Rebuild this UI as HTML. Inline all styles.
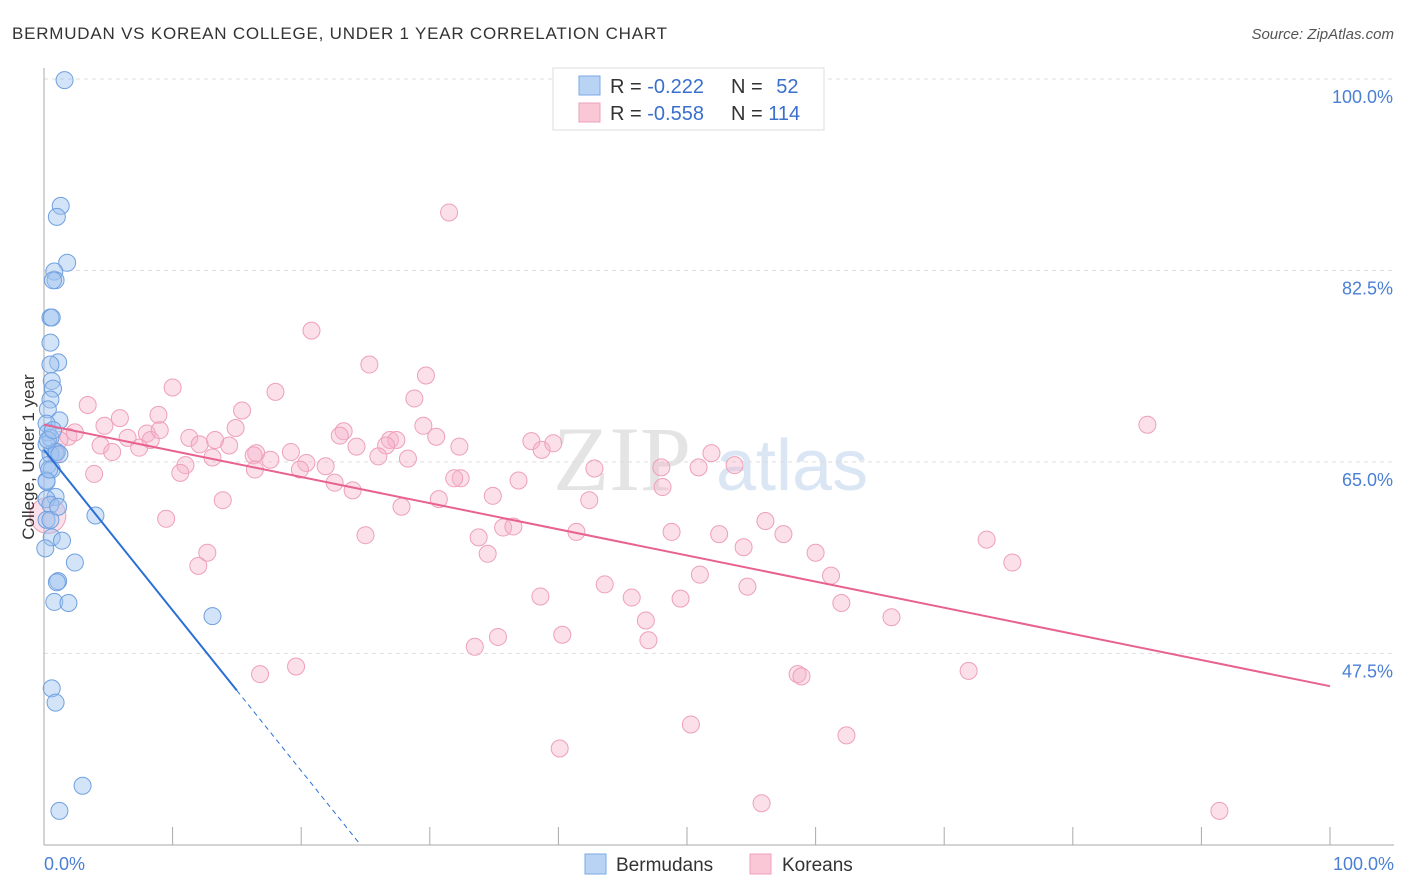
<!DOCTYPE html>
<html><head><meta charset="utf-8">
<style>
body{margin:0;background:#fff;font-family:"Liberation Sans",sans-serif;}
svg{display:block}
</style></head>
<body>
<svg id="chart" width="1406" height="892">
<text x="12" y="39" font-size="17" fill="#333" textLength="655">BERMUDAN VS KOREAN COLLEGE, UNDER 1 YEAR CORRELATION CHART</text>
<text x="1394" y="39" font-size="15" fill="#555" text-anchor="end" font-style="italic">Source: ZipAtlas.com</text>
<text x="553" y="490" font-size="92" fill="#e4e4e4" font-family="Liberation Serif,serif">ZIP</text>
<text x="716" y="490" font-size="72" fill="#dbe6f5">atlas</text>
<g id="grid"></g>
<g id="axes"></g>
<g id="pts"></g>
<g id="lines"></g>
<text transform="translate(34,457) rotate(-90)" font-size="17" fill="#333" text-anchor="middle">College, Under 1 year</text>
<text x="44" y="870" font-size="18" fill="#4a7fd4">0.0%</text>
<text x="1394" y="870" font-size="18" fill="#4a7fd4" text-anchor="end">100.0%</text>
<g>
<rect x="553" y="68" width="271" height="62" fill="#fff" stroke="#ddd"/>
<rect x="579" y="76" width="21" height="19" fill="#b9d3f5" stroke="#7aa8e8"/>
<rect x="579" y="103" width="21" height="19" fill="#f9c7d6" stroke="#eea0b8"/>
<text x="610" y="93" font-size="20" fill="#333">R = <tspan fill="#3a70cc">-0.222</tspan></text>
<text x="731" y="93" font-size="20" fill="#333">N = <tspan fill="#3a70cc" dx="8">52</tspan></text>
<text x="610" y="120" font-size="20" fill="#333">R = <tspan fill="#3a70cc">-0.558</tspan></text>
<text x="731" y="120" font-size="20" fill="#333">N = <tspan fill="#3a70cc">114</tspan></text>
</g>
<g>
<rect x="585" y="854" width="21" height="20" fill="#b9d3f5" stroke="#7aa8e8"/>
<text x="616" y="871" font-size="19" fill="#333">Bermudans</text>
</g>
<g>
<rect x="750" y="854" width="21" height="20" fill="#f9c7d6" stroke="#eea0b8"/>
<text x="782" y="871" font-size="19" fill="#333">Koreans</text>
</g>
</svg>
<script>
const yTicks=[100,82.5,65,47.5];
const yTickLabels=["100.0%","82.5%","65.0%","47.5%"];
const xTicks=[0,10,20,30,40,50,60,70,80,90,100];
const blue=[[1.6,99.9],[1.3,88.4],[1.0,87.4],[1.8,83.2],[0.8,82.4],[0.9,81.6],[0.7,81.6],[0.5,78.2],[0.6,78.2],[0.5,75.9],[1.1,74.1],[0.5,73.9],[0.6,72.4],[0.7,71.7],[0.5,70.7],[0.3,69.8],[1.2,68.8],[0.2,68.5],[0.3,67.7],[0.5,67.2],[0.2,66.6],[0.9,65.9],[0.5,65.7],[1.0,65.9],[0.3,64.7],[0.6,64.3],[0.2,63.3],[0.2,63.2],[0.9,61.8],[0.2,61.6],[0.5,61.1],[4.0,60.1],[0.6,58.1],[1.4,57.8],[0.1,57.1],[2.4,55.8],[1.1,54.1],[1.0,54.0],[0.8,52.2],[1.9,52.1],[13.1,50.9],[0.6,44.3],[0.9,43.0],[3.0,35.4],[1.2,33.1],[0.3,67.0],[0.7,67.9],[0.4,64.3],[0.2,59.7],[1.2,65.7],[0.5,59.7],[1.1,60.9]];
const pink=[[31.5,87.8],[20.8,77.0],[25.3,73.9],[29.7,72.9],[10.0,71.8],[18.0,71.4],[28.8,70.8],[3.4,70.2],[15.4,69.7],[8.9,69.3],[5.9,69.0],[29.5,68.3],[4.7,68.3],[11.3,67.2],[1.9,67.3],[8.0,67.6],[6.5,67.2],[8.3,67.0],[4.4,66.5],[7.4,66.3],[14.9,68.1],[12.1,66.6],[14.4,66.5],[16.5,65.8],[16.3,65.6],[19.2,65.9],[17.6,65.2],[20.4,64.9],[21.9,64.6],[23.3,67.8],[23.0,67.4],[24.3,66.4],[26.9,67.0],[27.4,67.0],[26.6,66.5],[26.0,65.5],[28.3,65.3],[30.5,67.3],[32.3,66.4],[32.4,63.5],[31.9,63.5],[34.9,61.9],[36.9,63.3],[37.9,66.9],[38.7,66.1],[39.6,66.7],[42.8,64.4],[42.4,61.5],[48.0,64.5],[48.1,62.7],[50.9,64.5],[51.9,65.8],[53.7,64.7],[85.8,68.4],[11.0,64.7],[10.6,64.0],[13.1,65.4],[13.9,61.5],[3.9,63.9],[5.3,65.9],[9.5,59.8],[12.7,56.7],[12.0,55.5],[19.9,64.3],[22.6,63.1],[24.0,62.4],[30.7,61.6],[33.8,58.1],[35.7,59.0],[36.5,59.1],[34.5,56.6],[25.0,58.3],[27.8,60.9],[41.4,58.6],[48.8,58.6],[56.1,59.6],[52.5,58.4],[54.4,57.2],[57.5,58.4],[60.0,56.7],[61.2,54.6],[62.0,52.1],[65.9,50.8],[73.3,57.9],[75.3,55.8],[51.0,54.7],[54.7,53.6],[43.6,53.8],[45.7,52.6],[49.5,52.5],[46.8,50.5],[47.0,48.7],[38.6,52.7],[40.3,49.2],[35.3,49.0],[33.5,48.1],[19.6,46.3],[16.8,45.6],[58.6,45.6],[58.9,45.4],[71.9,45.9],[50.3,41.0],[62.4,40.0],[40.1,38.8],[55.8,33.8],[91.4,33.1],[13.3,67.0],[16.4,64.3],[9.0,67.9],[1.2,67.0],[2.4,67.7],[0.9,65.7],[0.3,60.1]];
const pinkTrend=[68.4,44.5];
const blueTrend=[66.1,44.1,15.0];
const X=v=>44+v*12.86, Y=v=>79+(100-v)*10.94;
const NS="http://www.w3.org/2000/svg";
function mk(p,t,a){const e=document.createElementNS(NS,t);for(const k in a)e.setAttribute(k,a[k]);p.appendChild(e);return e;}
const grid=document.getElementById('grid'),axes=document.getElementById('axes'),pts=document.getElementById('pts'),lines=document.getElementById('lines');
yTicks.forEach((t,i)=>{
 const l=mk(grid,'line',{x1:44,x2:1394,y1:Y(t),y2:Y(t),stroke:'#ddd','stroke-dasharray':'4,4'});
 
 
 const tx=mk(grid,'text',{x:1393,y:Y(t)+24,'font-size':18,fill:'#4a7fd4','text-anchor':'end'});
 tx.textContent=yTickLabels[i];
 
 
});
const ya=mk(axes,'line',{x1:44,x2:44,y1:68,y2:845,stroke:'#aaa'});


const xa=mk(axes,'line',{x1:44,x2:1394,y1:845,y2:845,stroke:'#aaa'});


xTicks.forEach(t=>{
 const tk=mk(axes,'line',{x1:X(t),x2:X(t),y1:827,y2:845,stroke:'#aaa'});
 
 
});
pink.forEach((d,i)=>{
 const c=mk(pts,'circle',{cx:X(d[0]),cy:Y(d[1]),r:(i==pink.length-1)?18:8.5,fill:'rgba(246,178,202,0.4)',stroke:'#eea0b8','stroke-width':1});
 
 
});
blue.forEach(d=>{
 const c=mk(pts,'circle',{cx:X(d[0]),cy:Y(d[1]),r:8.5,fill:'rgba(160,196,240,0.45)',stroke:'#6fa0e0','stroke-width':1});
 
 
});
const pl=mk(lines,'line',{x1:X(0),y1:Y(pinkTrend[0]),x2:X(100),y2:Y(pinkTrend[1]),stroke:'#e8628f','stroke-width':2});


const slope=(blueTrend[1]-blueTrend[0])/blueTrend[2];
const bl=mk(lines,'line',{x1:X(0),y1:Y(blueTrend[0]),x2:X(blueTrend[2]),y2:Y(blueTrend[1]),stroke:'#2b6fd6','stroke-width':2});


const xEnd=(30-blueTrend[0])/slope;
const bd=mk(lines,'line',{x1:X(blueTrend[2]),y1:Y(blueTrend[1]),x2:X(xEnd),y2:Y(30),stroke:'#2b6fd6','stroke-width':1,'stroke-dasharray':'5,4'});


</script>
</body></html>
